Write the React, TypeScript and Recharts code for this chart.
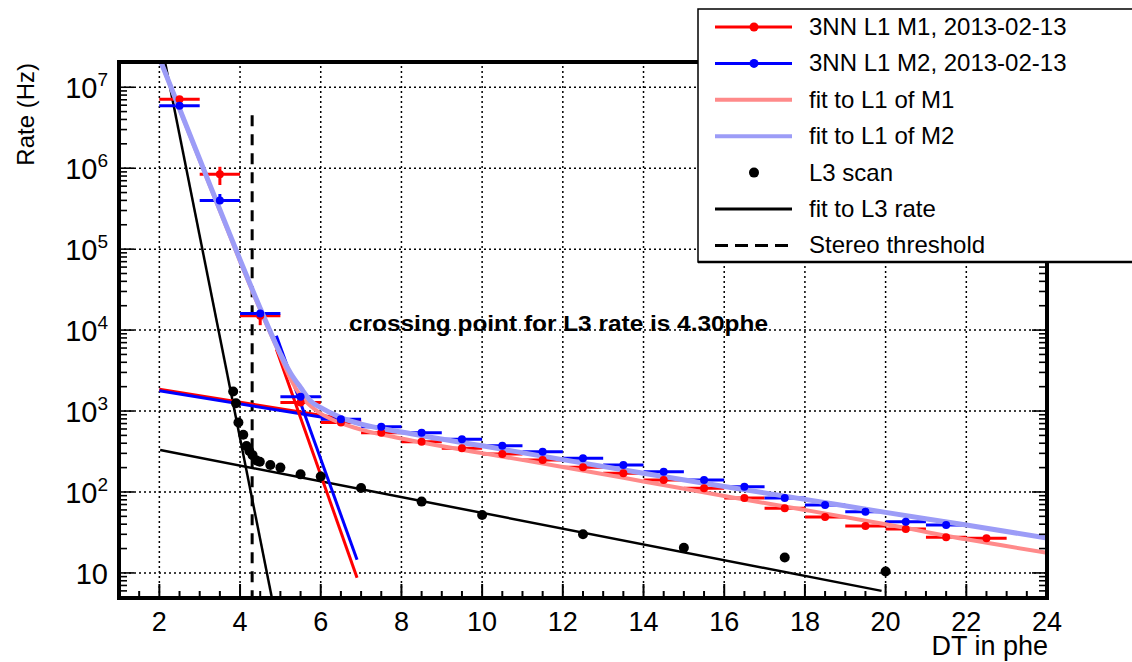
import React from 'react';
import { ComposedChart, Line, Scatter, XAxis, YAxis, ErrorBar, ReferenceLine } from 'recharts';

const W = 1132;
const H = 662;
const PLOT = { left: 119, right: 1047, top: 62, bottom: 598 };
const FONT = '"Liberation Sans", Arial, Helvetica, sans-serif';

// L1 rate scans (bins of 1 phe)
const l1X = [2.5, 3.5, 4.5, 5.5, 6.5, 7.5, 8.5, 9.5, 10.5, 11.5, 12.5, 13.5, 14.5, 15.5, 16.5, 17.5, 18.5, 19.5, 20.5, 21.5, 22.5];
const m1Rate = [7.1e6, 8.4e5, 1.5e4, 1270, 720, 540, 418, 347, 295, 248, 202, 170, 141, 111, 84, 63, 49, 38, 35, 27.6, 26.8];
const m1ErrLow = [0, 2.2e5, 3500, 0, 0, 0, 0, 0, 0, 0, 0, 0, 0, 0, 0, 0, 0, 0, 0, 0, 0];
const m1ErrHigh = [0, 2.0e5, 2800, 0, 0, 0, 0, 0, 0, 0, 0, 0, 0, 0, 0, 0, 0, 0, 0, 0, 0];
const m2Rate = [5.9e6, 4.0e5, 1.6e4, 1500, 790, 640, 540, 447, 373, 315, 261, 215, 178, 141, 116, 84, 69, 57, 43, 39];
const m2ErrLow = [0, 4e4, 0, 0, 0, 0, 0, 0, 0, 0, 0, 0, 0, 0, 0, 0, 0, 0, 0, 0];
const m2ErrHigh = [0, 8e4, 0, 0, 0, 0, 0, 0, 0, 0, 0, 0, 0, 0, 0, 0, 0, 0, 0, 0];

// fits to L1
const fitX = [2, 3, 4, 4.5, 5, 5.25, 5.5, 5.75, 6, 6.5, 7, 8, 10, 12, 14, 16, 18, 20, 22, 24];
const fitM1 = [2.3e7, 1.26e6, 7.1e4, 1.78e4, 4800, 2500, 1550, 1150, 930, 710, 590, 457, 302, 204, 135, 89, 60, 40, 26, 17.8];
const fitM2 = [2.3e7, 1.29e6, 7.4e4, 1.86e4, 5100, 2950, 1950, 1330, 1100, 830, 690, 550, 372, 251, 170, 117, 81, 56, 39, 27];

// straight components
const m1FlatX = [2, 7];
const m1FlatY = [1860, 740];
const m2FlatX = [2, 7];
const m2FlatY = [1780, 700];
const m1SteepX = [4.9, 6.9];
const m1SteepY = [5800, 8.7];
const m2SteepX = [4.9, 6.9];
const m2SteepY = [8500, 14.5];

// L3 scan
const l3X = [3.83, 3.9, 3.96, 4.08, 4.16, 4.23, 4.31, 4.41, 4.49, 4.75, 5, 5.5, 6, 7, 8.5, 10, 12.5, 15, 17.5, 20];
const l3Rate = [1740, 1250, 720, 510, 370, 320, 285, 245, 236, 215, 200, 165, 155, 112, 76, 52, 30, 20.5, 15.5, 10.4];
const l3SteepX = [2, 4.9];
const l3SteepY = [4.6e7, 2.6];
const l3FlatX = [2.02, 19.9];
const l3FlatY = [330, 6.0];

const stereoX = [4.3, 4.3];
const stereoY = [4.5e6, 1];

const xMajor = [2, 4, 6, 8, 10, 12, 14, 16, 18, 20, 22, 24];
const yMajor = [10, 100, 1e3, 1e4, 1e5, 1e6, 1e7];
const Y_DOMAIN: [number, number] = [4.9, 2.05e7];

const xTicks: number[] = [];
for (let v = 1; v <= 24; v += 0.5) xTicks.push(v);
const yTicks: number[] = [];
for (let e = 0; e <= 7; e++) {
  for (let k = 1; k <= 9; k++) {
    const v = k * Math.pow(10, e);
    if (v >= Y_DOMAIN[0] && v <= Y_DOMAIN[1]) yTicks.push(v);
  }
}

const pts = (xs: number[], ys: number[]) => xs.map((x, i) => ({ x, y: ys[i] }));

const m1Data = l1X.map((x, i) => ({ x, y: m1Rate[i], ex: 0.5, ey: [m1ErrLow[i], m1ErrHigh[i]] }));
const m2Data = l1X.slice(0, m2Rate.length).map((x, i) => ({ x, y: m2Rate[i], ex: 0.5, ey: [m2ErrLow[i], m2ErrHigh[i]] }));
const l3Data = pts(l3X, l3Rate);

function XTick(props: any) {
  const { x, payload } = props;
  const v = payload.value;
  const major = v % 2 === 0;
  return (
    <g>
      <line x1={x} x2={x} y1={PLOT.bottom} y2={PLOT.bottom - (major ? 14 : 7)} stroke="#000" strokeWidth={2} />
      {major && (
        <text x={x} y={631} textAnchor="middle" fontSize={27} fontFamily={FONT} fill="#000">
          {v}
        </text>
      )}
    </g>
  );
}

function YTick(props: any) {
  const { y, payload } = props;
  const v = payload.value;
  const e = Math.round(Math.log10(v));
  const major = Math.abs(v - Math.pow(10, e)) < 1e-6 * v;
  const len = major ? 15 : 8;
  return (
    <g>
      <line x1={PLOT.left} x2={PLOT.left + len} y1={y} y2={y} stroke="#000" strokeWidth={1.6} />
      <line x1={PLOT.right} x2={PLOT.right - len} y1={y} y2={y} stroke="#000" strokeWidth={1.6} />
      {major && (
        <text x={108} y={y + 11} textAnchor="end" fontSize={29} fontFamily={FONT} fill="#000">
          10
          {e > 1 && (
            <tspan dy={-12} fontSize={19}>
              {e}
            </tspan>
          )}
        </text>
      )}
    </g>
  );
}

const dot = (color: string, r: number) => (p: any) => <circle cx={p.cx} cy={p.cy} r={r} fill={color} />;

const legendRows = [
  { label: '3NN L1 M1, 2013-02-13', kind: 'linedot', color: '#ff0000', width: 3 },
  { label: '3NN L1 M2, 2013-02-13', kind: 'linedot', color: '#0000ff', width: 3 },
  { label: 'fit to L1 of M1', kind: 'line', color: '#ff8a8a', width: 4 },
  { label: 'fit to L1 of M2', kind: 'line', color: '#9c9cf7', width: 4 },
  { label: 'L3 scan', kind: 'dot', color: '#000', width: 0 },
  { label: 'fit to L3 rate', kind: 'line', color: '#000', width: 3 },
  { label: 'Stereo threshold', kind: 'dash', color: '#000', width: 3 },
];

export default function App() {
  return (
    <div style={{ position: 'absolute', left: 0, top: 0, width: W, height: H, background: '#fff' }}>
      <ComposedChart width={W} height={H} margin={{ top: PLOT.top, right: W - PLOT.right, bottom: 0, left: 0 }}>
        <XAxis
          type="number"
          dataKey="x"
          domain={[1, 24]}
          allowDataOverflow
          ticks={xTicks}
          interval={0}
          tick={XTick}
          tickLine={false}
          axisLine={false}
          height={H - PLOT.bottom}
        />
        <YAxis
          dataKey="y"
          scale="log"
          domain={Y_DOMAIN}
          allowDataOverflow
          ticks={yTicks}
          interval={0}
          tick={YTick}
          tickLine={false}
          axisLine={false}
          width={PLOT.left}
        />
        {xMajor.slice(0, -1).map((v) => (
          <ReferenceLine key={`gx${v}`} x={v} stroke="#000" strokeWidth={1.5} strokeDasharray="2 3" />
        ))}
        {yMajor.map((v) => (
          <ReferenceLine key={`gy${v}`} y={v} stroke="#000" strokeWidth={1.5} strokeDasharray="2 3" />
        ))}
        <Line data={pts(stereoX, stereoY)} dataKey="y" type="linear" stroke="#000" strokeWidth={3} strokeDasharray="11 8" dot={false} isAnimationActive={false} />
        <Line data={pts(l3SteepX, l3SteepY)} dataKey="y" type="linear" stroke="#000" strokeWidth={2.5} dot={false} isAnimationActive={false} />
        <Line data={pts(l3FlatX, l3FlatY)} dataKey="y" type="linear" stroke="#000" strokeWidth={2.5} dot={false} isAnimationActive={false} />
        <Line data={pts(m1FlatX, m1FlatY)} dataKey="y" type="linear" stroke="#ff0000" strokeWidth={3} dot={false} isAnimationActive={false} />
        <Line data={pts(m2FlatX, m2FlatY)} dataKey="y" type="linear" stroke="#0000ff" strokeWidth={3} dot={false} isAnimationActive={false} />
        <Line data={pts(m1SteepX, m1SteepY)} dataKey="y" type="linear" stroke="#ff0000" strokeWidth={3} dot={false} isAnimationActive={false} />
        <Line data={pts(m2SteepX, m2SteepY)} dataKey="y" type="linear" stroke="#0000ff" strokeWidth={3} dot={false} isAnimationActive={false} />
        <Scatter data={m1Data} shape={dot('#ff0000', 4)} isAnimationActive={false}>
          <ErrorBar dataKey="ex" direction="x" width={0} stroke="#ff0000" strokeWidth={3} />
          <ErrorBar dataKey="ey" direction="y" width={0} stroke="#ff0000" strokeWidth={3} />
        </Scatter>
        <Scatter data={m2Data} shape={dot('#0000ff', 4)} isAnimationActive={false}>
          <ErrorBar dataKey="ex" direction="x" width={0} stroke="#0000ff" strokeWidth={3} />
          <ErrorBar dataKey="ey" direction="y" width={0} stroke="#0000ff" strokeWidth={3} />
        </Scatter>
        <Line data={pts(fitX, fitM1)} dataKey="y" type="monotone" stroke="#ff8a8a" strokeWidth={4} dot={false} isAnimationActive={false} />
        <Line data={pts(fitX, fitM2)} dataKey="y" type="monotone" stroke="#9c9cf7" strokeWidth={5} dot={false} isAnimationActive={false} />
        <Scatter data={l3Data} shape={dot('#000', 5)} isAnimationActive={false} />
      </ComposedChart>

      <svg width={W} height={H} style={{ position: 'absolute', left: 0, top: 0, pointerEvents: 'none' }}>
        <rect
          x={PLOT.left}
          y={PLOT.top}
          width={PLOT.right - PLOT.left}
          height={PLOT.bottom - PLOT.top}
          fill="none"
          stroke="#000"
          strokeWidth={4}
        />
        <text transform="rotate(-90)" x={-63} y={34} textAnchor="end" fontSize={24} fontFamily={FONT} fill="#000">
          Rate (Hz)
        </text>
        <text x={1048} y={655} textAnchor="end" fontSize={27} fontFamily={FONT} fill="#000">
          DT in phe
        </text>
        <text x={349} y={331} fontSize={22} fontWeight="bold" fontFamily={FONT} fill="#000" textLength={419} lengthAdjust="spacingAndGlyphs">
          crossing point for L3 rate is 4.30phe
        </text>

        <rect x={698} y={9} width={460} height={253} fill="#fff" stroke="#000" strokeWidth={1.5} />
        <line x1={698} x2={1132} y1={262} y2={262} stroke="#000" strokeWidth={2.5} />
        {legendRows.map((r, i) => {
          const base = 35 + i * 36.4;
          const cy = base - 8;
          return (
            <g key={r.label}>
              {(r.kind === 'line' || r.kind === 'linedot') && (
                <line x1={715} x2={792} y1={cy} y2={cy} stroke={r.color} strokeWidth={r.width} />
              )}
              {r.kind === 'dash' && (
                <line x1={715} x2={792} y1={cy} y2={cy} stroke={r.color} strokeWidth={r.width} strokeDasharray="13 7" />
              )}
              {r.kind === 'linedot' && <circle cx={754} cy={cy} r={4.5} fill={r.color} />}
              {r.kind === 'dot' && <circle cx={754} cy={cy} r={5} fill={r.color} />}
              <text x={809} y={base} fontSize={24} fontFamily={FONT} fill="#000">
                {r.label}
              </text>
            </g>
          );
        })}
      </svg>
    </div>
  );
}
